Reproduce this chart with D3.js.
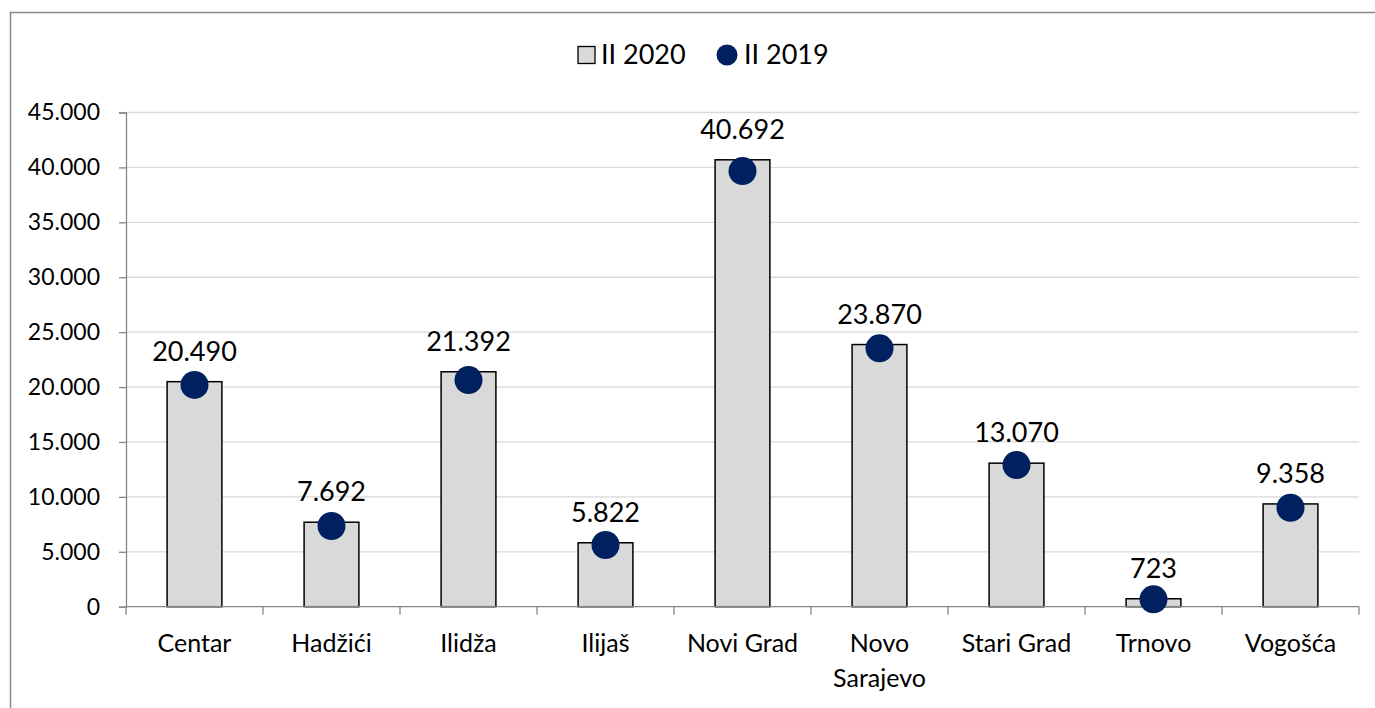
<!DOCTYPE html>
<html>
<head>
<meta charset="utf-8">
<script src="https://cdn.jsdelivr.net/npm/d3@7"></script>
<style>
  body { margin: 0; background: #fff; }
  svg { font-family: Lato, "Open Sans", sans-serif; }
</style>
</head>
<body>
<svg width="1375" height="708"></svg>
<script>
const categories = ['Centar', 'Hadžići', 'Ilidža', 'Ilijaš', 'Novi Grad', 'Novo Sarajevo', 'Stari Grad', 'Trnovo', 'Vogošća'];
const values2020 = [20490, 7692, 21392, 5822, 40692, 23870, 13070, 723, 9358];
const values2019 = [20190, 7350, 20640, 5620, 39670, 23530, 12900, 670, 9010];
const yTicks = [0, 5000, 10000, 15000, 20000, 25000, 30000, 35000, 40000, 45000];
const seriesNames = ['II 2020', 'II 2019'];

const fmt = v => d3.format(',')(v).replace(/,/g, '.');

const svg = d3.select('svg');
const plotLeft = 126, plotRight = 1359, plotTop = 112.5, plotBottom = 606.7;

// outer chart border (right and bottom edges fall outside the picture)
svg.append('rect')
  .attr('x', 10.5).attr('y', 12.5)
  .attr('width', 1400).attr('height', 800)
  .attr('fill', 'none')
  .attr('stroke', '#898989')
  .attr('stroke-width', 1.5);

const x = d3.scaleBand()
  .domain(categories)
  .range([plotLeft, plotRight])
  .paddingInner(0)
  .paddingOuter(0);

const y = d3.scaleLinear()
  .domain([0, 45000])
  .range([plotBottom, plotTop]);

// gridlines
svg.append('g')
  .selectAll('line')
  .data(yTicks.slice(1))
  .enter().append('line')
  .attr('x1', plotLeft).attr('x2', plotRight)
  .attr('y1', d => y(d)).attr('y2', d => y(d))
  .attr('stroke', '#d9d9d9')
  .attr('stroke-width', 1.3);

// y axis
const yAxis = svg.append('g')
  .attr('transform', `translate(${plotLeft},0)`)
  .call(d3.axisLeft(y).tickValues(yTicks).tickFormat(fmt).tickSize(7).tickPadding(19));
yAxis.select('.domain').attr('stroke', '#868686').attr('stroke-width', 1.3);
yAxis.selectAll('.tick line').attr('stroke', '#868686').attr('stroke-width', 1.3);
yAxis.selectAll('.tick text')
  .attr('font-size', 23)
  .attr('fill', '#000')
  .attr('font-family', 'Lato, sans-serif');

// bars
const bw = x.bandwidth() * 0.4;
svg.append('g')
  .selectAll('rect')
  .data(values2020)
  .enter().append('rect')
  .attr('x', (d, i) => x(categories[i]) + x.bandwidth() / 2 - bw / 2)
  .attr('y', d => y(d))
  .attr('width', bw)
  .attr('height', d => plotBottom - y(d))
  .attr('fill', '#d9d9d9')
  .attr('stroke', '#000')
  .attr('stroke-width', 1.5);

// x axis
svg.append('line')
  .attr('x1', plotLeft).attr('x2', plotRight)
  .attr('y1', plotBottom).attr('y2', plotBottom)
  .attr('stroke', '#868686').attr('stroke-width', 1.3);
svg.append('g')
  .selectAll('line')
  .data(d3.range(categories.length + 1))
  .enter().append('line')
  .attr('x1', i => plotLeft + i * x.step()).attr('x2', i => plotLeft + i * x.step())
  .attr('y1', plotBottom).attr('y2', plotBottom + 8)
  .attr('stroke', '#868686').attr('stroke-width', 1.3);

// category labels (wrap two-word long names)
svg.append('g')
  .selectAll('text')
  .data(categories)
  .enter().append('text')
  .attr('x', d => x(d) + x.bandwidth() / 2)
  .attr('y', 652)
  .attr('text-anchor', 'middle')
  .attr('font-size', 25)
  .attr('fill', '#000')
  .each(function (d) {
    const parts = d === 'Novo Sarajevo' ? ['Novo', 'Sarajevo'] : [d];
    parts.forEach((p, j) => {
      d3.select(this).append('tspan')
        .attr('x', x(d) + x.bandwidth() / 2)
        .attr('dy', j === 0 ? 0 : 35)
        .text(p);
    });
  });

// data labels
svg.append('g')
  .selectAll('text')
  .data(values2020)
  .enter().append('text')
  .attr('x', (d, i) => x(categories[i]) + x.bandwidth() / 2)
  .attr('y', d => y(d) - 21)
  .attr('text-anchor', 'middle')
  .attr('font-size', 27)
  .attr('fill', '#000')
  .text(fmt);

// 2019 dots
svg.append('g')
  .selectAll('circle')
  .data(values2019)
  .enter().append('circle')
  .attr('cx', (d, i) => x(categories[i]) + x.bandwidth() / 2)
  .attr('cy', d => y(d))
  .attr('r', 14)
  .attr('fill', '#002060');

// legend
const lg = svg.append('g');
lg.append('rect')
  .attr('x', 578).attr('y', 46.5)
  .attr('width', 17).attr('height', 17)
  .attr('fill', '#d9d9d9').attr('stroke', '#000').attr('stroke-width', 1.3);
lg.append('text')
  .attr('x', 601).attr('y', 64)
  .attr('font-size', 27).attr('fill', '#000')
  .text(seriesNames[0]);
lg.append('circle')
  .attr('cx', 727).attr('cy', 55).attr('r', 10.5)
  .attr('fill', '#002060');
lg.append('text')
  .attr('x', 744).attr('y', 64)
  .attr('font-size', 27).attr('fill', '#000')
  .text(seriesNames[1]);
</script>
</body>
</html>
